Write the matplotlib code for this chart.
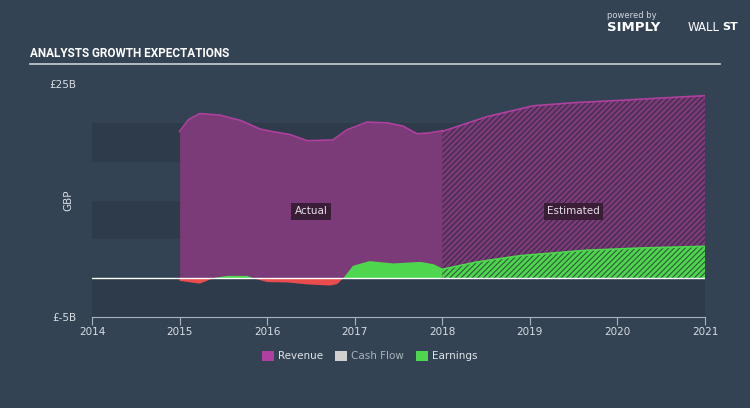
import matplotlib.pyplot as plt
import numpy as np
from matplotlib.patches import Patch

# values (GBP billions)
rev_years = [2015.0, 2015.1, 2015.23, 2015.46, 2015.7, 2015.92, 2016.1, 2016.26, 2016.46,
             2016.75, 2016.91, 2017.14, 2017.37, 2017.55, 2017.71, 2017.85, 2018.0]
rev_vals = [18.9, 20.4, 21.2, 21.0, 20.3, 19.2, 18.8, 18.5, 17.7,
            17.8, 19.1, 20.1, 20.0, 19.6, 18.6, 18.7, 19.0]
rev_est_years = [2018.0, 2018.51, 2019.04, 2019.5, 2020.03, 2020.5, 2021.0]
rev_est_vals = [18.9, 20.8, 22.2, 22.6, 22.9, 23.2, 23.5]

earn_years = [2015.0, 2015.23, 2015.3, 2015.38, 2015.54, 2015.77, 2015.84, 2016.0, 2016.23,
              2016.46, 2016.72, 2016.8, 2016.87, 2016.98, 2017.17, 2017.44, 2017.75, 2017.9, 2018.0]
earn_vals = [-0.35, -0.7, -0.4, 0.0, 0.3, 0.3, 0.0, -0.5, -0.55,
             -0.8, -0.95, -0.75, 0.0, 1.6, 2.2, 1.9, 2.1, 1.8, 1.25]
earn_est_years = [2018.0, 2018.4, 2018.89, 2019.65, 2020.3, 2021.0]
earn_est_vals = [1.15, 2.1, 2.9, 3.6, 3.9, 4.1]

x_ticks = [2014, 2015, 2016, 2017, 2018, 2019, 2020, 2021]

bg = '#334354'
band = '#2e3b4a'
purple = '#7b3a78'
purple_line = '#b0409f'
green = '#4fd64f'
red = '#e84c4c'

plt.rcParams['hatch.linewidth'] = 0.8
fig = plt.figure(figsize=(7.5, 4.08), dpi=100, facecolor=bg)
ax = fig.add_axes([0.1227, 0.223, 0.8173, 0.571])
ax.set_facecolor(bg)

for lo, hi in [(15, 20), (5, 10), (-5, 0)]:
    ax.axhspan(lo, hi, color=band, lw=0, zorder=0)

# revenue
ax.fill_between(rev_years, 0, rev_vals, color=purple, lw=0, zorder=1)
ax.plot(rev_years, rev_vals, color=purple_line, lw=1.2, zorder=3)
ax.fill_between(rev_est_years, 0, rev_est_vals, facecolor=purple, edgecolor='#3a2b46',
                hatch='//////', lw=0, zorder=1)
ax.plot(rev_est_years, rev_est_vals, color=purple_line, lw=1.2, zorder=3)

# earnings
ey = np.array(earn_years)
ev = np.array(earn_vals)
ax.fill_between(ey, 0, ev, where=ev >= 0, interpolate=True, color=green, lw=0, zorder=2)
ax.fill_between(ey, 0, ev, where=ev <= 0, interpolate=True, color=red, lw=0, zorder=2)
ax.fill_between(earn_est_years, 0, earn_est_vals, facecolor=green, edgecolor='#2f5a3a',
                hatch='//////', lw=0, zorder=2)
ax.plot(earn_est_years, earn_est_vals, color=green, lw=1.2, zorder=3)

ax.axhline(0, color='white', lw=1, zorder=4)

ax.set_xlim(2014, 2021)
ax.set_ylim(-5, 25)
ax.set_xticks(x_ticks)
ax.set_xticklabels([str(y) for y in x_ticks], color='#d8dde3', fontsize=7.5)
ax.set_yticks([-5, 25])
ax.set_yticklabels(['£-5B', '£25B'], color='#d8dde3', fontsize=7.5)
ax.tick_params(axis='x', direction='out', length=6, color='#aab4bf', pad=1)
ax.tick_params(axis='y', length=0, pad=11)
for s in ['top', 'right', 'left']:
    ax.spines[s].set_visible(False)
ax.spines['bottom'].set_color('#aab4bf')
ax.set_ylabel('GBP', color='#d8dde3', fontsize=7.5)
ax.yaxis.set_label_coords(-0.03, 0.5)

box = dict(boxstyle='square,pad=0.3', facecolor='#3a1e38', edgecolor='none')
ax.text(2016.5, 8.6, 'Actual', color='#e8e0e8', fontsize=7.5, ha='center', va='center', bbox=box)
ax.text(2019.5, 8.6, 'Estimated', color='#e8e0e8', fontsize=7.5, ha='center', va='center', bbox=box)

# title and rule
fig.text(0.04, 0.87, 'ANALYSTS GROWTH EXPECTATIONS', color='white', fontsize=8.5,
         fontweight='bold', family=['Roboto', 'DejaVu Sans'], va='center')
fig.add_artist(plt.Line2D([0.04, 0.96], [0.843, 0.843], color='#c8d0d8', lw=1.2))

# logo text
fig.text(0.809, 0.963, 'powered by', color='#cfd6dd', fontsize=6, va='center')
fig.text(0.809, 0.933, 'SIMPLY', color='white', fontsize=9.5, fontweight='bold', va='center')
fig.text(0.917, 0.933, 'WALL', color='white', fontsize=8.5, va='center')
fig.text(0.963, 0.935, 'ST', color='white', fontsize=8, fontweight='bold', va='center')

handles = [Patch(facecolor='#b0409f', label='Revenue'),
           Patch(facecolor='#d0d0d0', label='Cash Flow'),
           Patch(facecolor=green, label='Earnings')]
leg = fig.legend(handles=handles, loc='center', bbox_to_anchor=(0.493, 0.127), ncol=3,
                 frameon=False, fontsize=7.5, handlelength=1.1, handleheight=1.1,
                 columnspacing=1.2, handletextpad=0.4)
for t in leg.get_texts():
    t.set_color('#e0e4e8')
leg.get_texts()[1].set_color('#aab2bb')

fig.savefig('out.png', dpi=100, facecolor=bg)
